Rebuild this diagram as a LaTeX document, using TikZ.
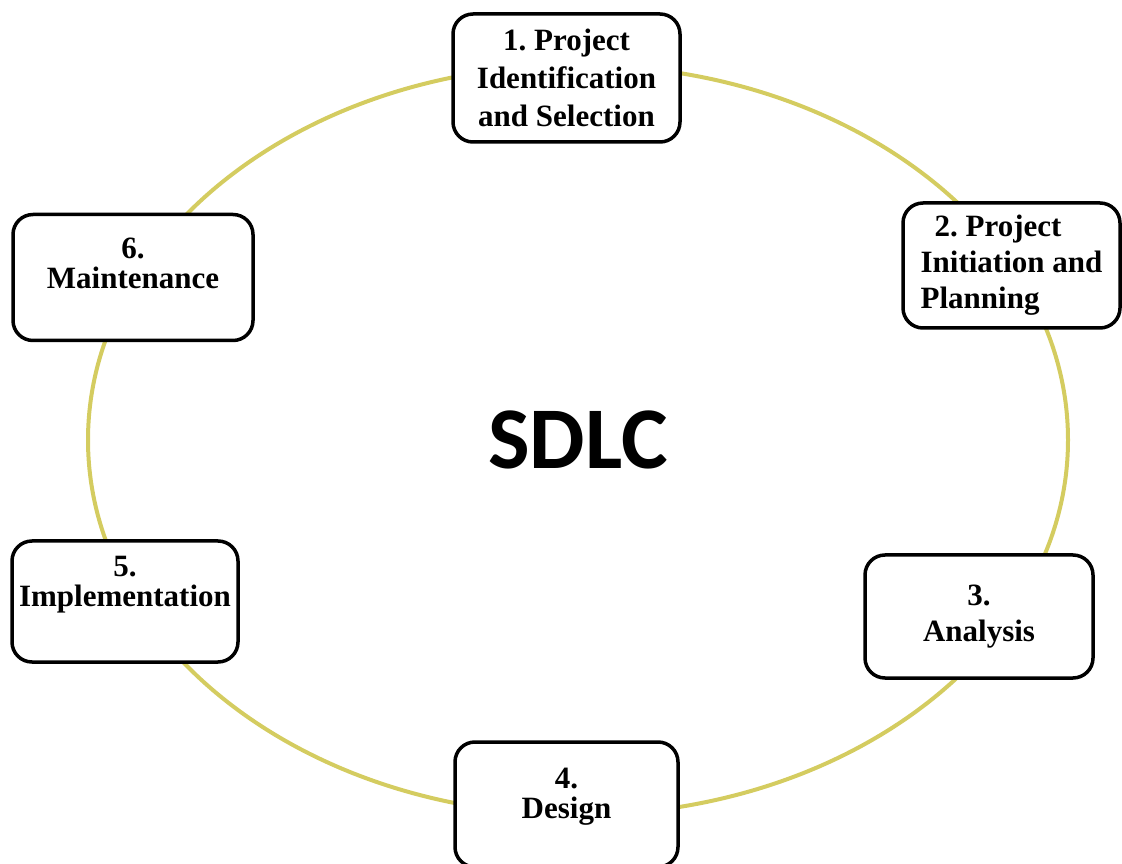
\documentclass[tikz,border=0pt]{standalone}
\usepackage{fontspec}
\setmainfont{Liberation Serif}
\newfontfamily\hubfont{Carlito}
\definecolor{ringyellow}{RGB}{212,204,96}
\begin{document}
\begin{tikzpicture}[x=1pt, y=1pt]
        % Define block styles
        \tikzstyle{phase} = [rectangle, draw, line width=3.5pt, fill=white, rounded corners=20pt, align=center, inner sep=0pt, font=\fontsize{31}{36}\selectfont\bfseries\frenchspacing]
        \tikzstyle{ring} = [draw=ringyellow, line width=4pt]

        \useasboundingbox (0,0) rectangle (1122,863);

        % Cycle behind the boxes
        \coordinate (hub) at (578,423);
        \draw [ring] (hub) ellipse [x radius=490pt, y radius=375pt];

        % Place nodes
        \node [phase, minimum width=227pt, minimum height=128pt] (ident) at (566.5,785) {1. Project\\[2pt]Identification\\[2pt]and Selection};
        \node [phase, align=left, minimum width=217pt, minimum height=125pt] (plan) at (1011.5,597.5) {\hspace*{14pt}2. Project\\Initiation and\\Planning};
        \node [phase, minimum width=228pt, minimum height=123pt] (analysis) at (979,246.5) {3.\\Analysis};
        \node [phase, text depth=22pt, minimum width=223pt, minimum height=125pt] (design) at (566.5,58.5) {4.\\[-6pt]Design};
        \node [phase, text depth=40pt, minimum width=226pt, minimum height=121pt] (impl) at (125,261.5) {5.\\[-6pt]Implementation};
        \node [phase, text depth=29pt, minimum width=240pt, minimum height=126pt] (maint) at (133,585.5) {6.\\[-6pt]Maintenance};

        \node [font=\hubfont\bfseries\fontsize{88}{88}\selectfont] (sdlc) at (hub) {SDLC};
    \end{tikzpicture}
\end{document}
